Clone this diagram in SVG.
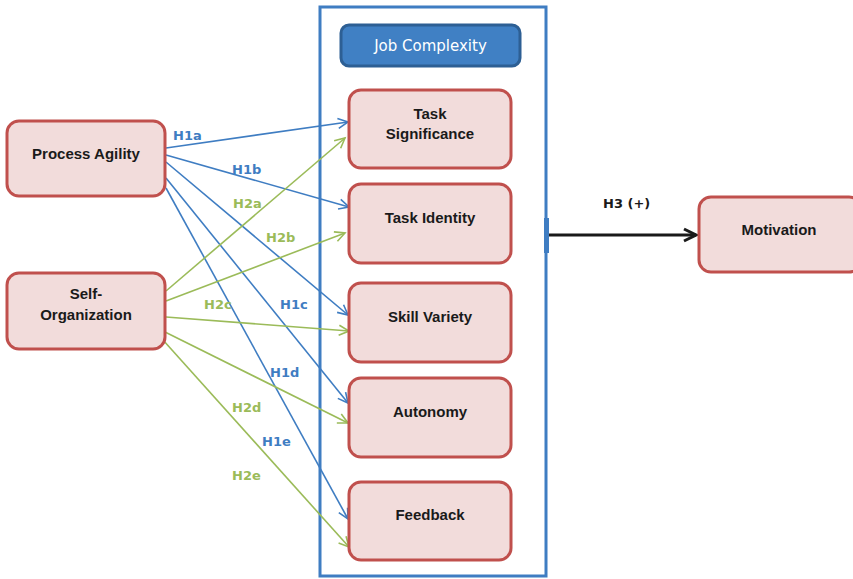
<svg xmlns="http://www.w3.org/2000/svg" width="853" height="579" viewBox="0 0 853 579">
<style>
.node{fill:#F2DCDB;stroke:#C0504D;stroke-width:3}
.t{font-family:"Liberation Sans",Arial,sans-serif;font-weight:bold;font-size:15px;fill:#1a1a1a;text-anchor:middle;dominant-baseline:central}
.b{stroke:#3F7DC2;stroke-width:1.6;fill:none;marker-end:url(#ab)}
.g{stroke:#9BBB59;stroke-width:1.6;fill:none;marker-end:url(#ag)}
.lb{font-family:"DejaVu Sans",Verdana,sans-serif;font-weight:bold;font-size:13px;fill:#3F7DC2}
.lg{font-family:"DejaVu Sans",Verdana,sans-serif;font-weight:bold;font-size:13px;fill:#9BBB59}
</style>
<defs>
<marker id="ab" markerWidth="14" markerHeight="14" refX="11" refY="6" orient="auto" markerUnits="userSpaceOnUse" viewBox="0 0 14 12">
<path d="M1,1 L11,6 L1,11" fill="none" stroke="#3F7DC2" stroke-width="1.6"/>
</marker>
<marker id="ag" markerWidth="14" markerHeight="14" refX="11" refY="6" orient="auto" markerUnits="userSpaceOnUse" viewBox="0 0 14 12">
<path d="M1,1 L11,6 L1,11" fill="none" stroke="#9BBB59" stroke-width="1.6"/>
</marker>
<marker id="ak" markerWidth="16" markerHeight="16" refX="13" refY="7" orient="auto" markerUnits="userSpaceOnUse" viewBox="0 0 16 14">
<path d="M1,1 L13,7 L1,13" fill="none" stroke="#1a1a1a" stroke-width="3"/>
</marker>
</defs>
<rect width="853" height="579" fill="#ffffff"/>
<g id="container">
<rect x="320" y="7" width="226" height="569" fill="none" stroke="#3F7DC2" stroke-width="3"/>
<rect x="544" y="218" width="5" height="35" fill="#3F7DC2"/>
</g>
<g id="job-complexity">
<rect x="341" y="25" width="179" height="41" rx="8" fill="#4080C4" stroke="#2D5F94" stroke-width="3"/>
<text x="430.5" y="45.5" font-family="DejaVu Sans,Verdana,sans-serif" font-size="15" fill="#ffffff" text-anchor="middle" dominant-baseline="central">Job Complexity</text>
</g>
<g id="connectors">
<path class="b" d="M166,148 L348,122"/>
<path class="b" d="M166,155 L349,207"/>
<path class="b" d="M166,162 L348,315"/>
<path class="b" d="M166,178 L348,403"/>
<path class="b" d="M166,188 L348,519"/>
<path class="g" d="M166,291 L345,138"/>
<path class="g" d="M166,301 L345,233"/>
<path class="g" d="M166,317 L349,331"/>
<path class="g" d="M165,332 L348,423"/>
<path class="g" d="M163,340 L349,547"/>
<path d="M549,235 L696,235" stroke="#1a1a1a" stroke-width="3" fill="none" marker-end="url(#ak)"/>
<text class="lb" x="173" y="140">H1a</text>
<text class="lb" x="232" y="174">H1b</text>
<text class="lg" x="233" y="208">H2a</text>
<text class="lg" x="266" y="242">H2b</text>
<text class="lg" x="204" y="309">H2c</text>
<text class="lb" x="280" y="309">H1c</text>
<text class="lb" x="270" y="377">H1d</text>
<text class="lg" x="232" y="412">H2d</text>
<text class="lb" x="262" y="446">H1e</text>
<text class="lg" x="232" y="480">H2e</text>
<text x="603" y="208" font-family="DejaVu Sans,Verdana,sans-serif" font-weight="bold" font-size="13" fill="#1a1a1a">H3 (+)</text>
</g>
<g id="process-agility">
<rect class="node" x="7" y="121" width="158" height="75" rx="12"/>
<text class="t" x="86" y="153">Process Agility</text>
</g>
<g id="self-organization">
<rect class="node" x="7" y="273" width="158" height="76" rx="12"/>
<text class="t" x="86" y="293">Self-</text>
<text class="t" x="86" y="314">Organization</text>
</g>
<g id="task-significance">
<rect class="node" x="349" y="90" width="162" height="78" rx="12"/>
<text class="t" x="430" y="113">Task</text>
<text class="t" x="430" y="133">Significance</text>
</g>
<g id="task-identity">
<rect class="node" x="349" y="184" width="162" height="79" rx="12"/>
<text class="t" x="430" y="217">Task Identity</text>
</g>
<g id="skill-variety">
<rect class="node" x="349" y="283" width="162" height="79" rx="12"/>
<text class="t" x="430" y="316">Skill Variety</text>
</g>
<g id="autonomy">
<rect class="node" x="349" y="378" width="162" height="79" rx="12"/>
<text class="t" x="430" y="411">Autonomy</text>
</g>
<g id="feedback">
<rect class="node" x="349" y="482" width="162" height="78" rx="12"/>
<text class="t" x="430" y="514">Feedback</text>
</g>
<g id="motivation">
<rect class="node" x="699" y="197" width="162" height="75" rx="12"/>
<text class="t" x="779" y="229">Motivation</text>
</g>
</svg>
